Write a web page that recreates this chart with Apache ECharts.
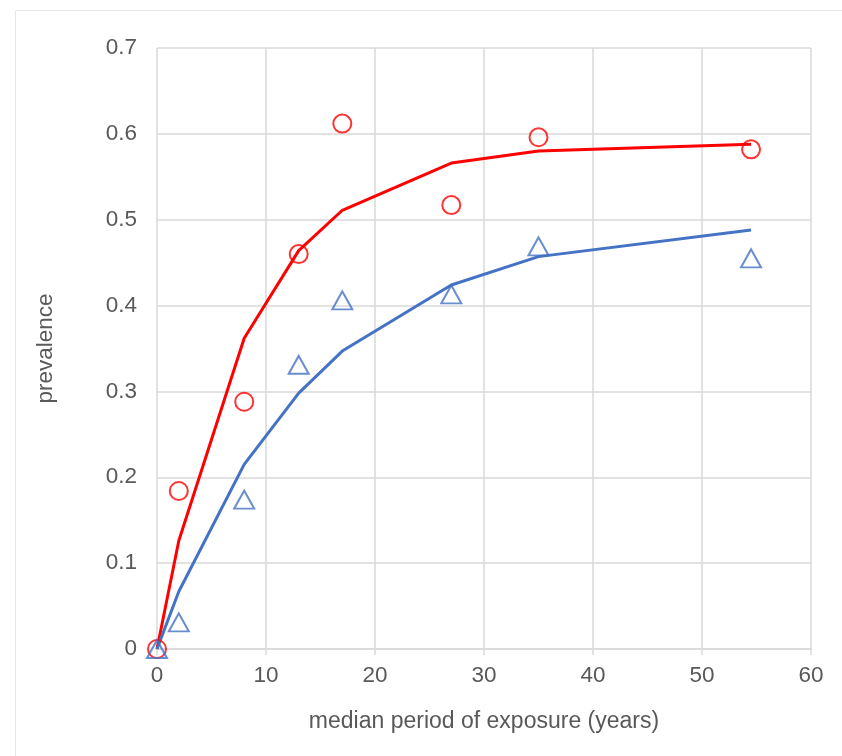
<!DOCTYPE html>
<html>
<head>
<meta charset="utf-8">
<script src="https://cdn.jsdelivr.net/npm/echarts@6/dist/echarts.min.js"></script>
<style>
html,body{margin:0;padding:0;background:#fff;}
#c{width:842px;height:756px;}
</style>
</head>
<body>
<div id="c"></div>
<script>
// Exposure period (years)
var exposureYears = [0, 2, 8, 13, 17, 27, 35, 54.5];
// Observed prevalence (red circles)
var observedRed = [0, 0.184, 0.288, 0.460, 0.612, 0.517, 0.596, 0.582];
// Fitted prevalence (red line)
var fittedRed = [0, 0.126, 0.362, 0.464, 0.511, 0.566, 0.580, 0.588];
// Observed prevalence (blue triangles)
var observedBlue = [0, 0.031, 0.174, 0.331, 0.406, 0.413, 0.469, 0.455];
// Fitted prevalence (blue line)
var fittedBlue = [0, 0.067, 0.215, 0.298, 0.347, 0.424, 0.457, 0.488];

function pairs(xs, ys) { return xs.map(function (x, i) { return [x, ys[i]]; }); }

var textColor = '#595959';
var gridColor = '#D9D9D9';
var font = 'Liberation Sans, Arial, sans-serif';

var chart = echarts.init(document.getElementById('c'), null, {renderer: 'canvas'});
chart.setOption({
  animation: false,
  backgroundColor: '#fff',
  graphic: [{
    type: 'rect', shape: {x: 15.5, y: 10.5, width: 840, height: 760},
    style: {fill: 'none', stroke: '#E6E6E6', lineWidth: 1}, silent: true, z: -1
  }],
  grid: {left: 157, top: 48, right: 31, bottom: 107},
  xAxis: {
    type: 'value', min: 0, max: 60, interval: 10,
    name: 'median period of exposure (years)', nameLocation: 'middle', nameGap: 61,
    nameTextStyle: {color: textColor, fontSize: 23, fontFamily: font},
    axisLine: {show: true, lineStyle: {color: gridColor, width: 1.5}},
    axisTick: {show: true, length: 6, lineStyle: {color: gridColor, width: 1.5}},
    axisLabel: {color: textColor, fontSize: 22.5, fontFamily: font, margin: 15},
    splitLine: {show: true, lineStyle: {color: gridColor, width: 1.5}}
  },
  yAxis: {
    type: 'value', min: 0, max: 0.7, interval: 0.1,
    name: 'prevalence', nameLocation: 'middle', nameGap: 100,
    nameTextStyle: {color: textColor, fontSize: 22.5, fontFamily: font},
    axisLine: {show: false}, axisTick: {show: false},
    axisLabel: {color: textColor, fontSize: 22.5, fontFamily: font, margin: 20,
      formatter: function (v) { return v === 0 ? '0' : v.toFixed(1); }},
    splitLine: {show: true, lineStyle: {color: gridColor, width: 1.5}}
  },
  series: [
    {type: 'line', data: pairs(exposureYears, fittedRed), showSymbol: false,
      lineStyle: {color: '#FF0000', width: 3}, z: 3},
    {type: 'line', data: pairs(exposureYears, fittedBlue), showSymbol: false,
      lineStyle: {color: '#4472C4', width: 3}, z: 3},
    {type: 'scatter', data: pairs(exposureYears, observedRed), symbol: 'circle', symbolSize: 18,
      itemStyle: {color: 'rgba(0,0,0,0)', borderColor: '#FF0000', borderWidth: 2}, z: 4},
    {type: 'scatter', data: pairs(exposureYears, observedBlue), symbol: 'triangle', symbolSize: [20, 18],
      itemStyle: {color: 'rgba(0,0,0,0)', borderColor: '#4472C4', borderWidth: 2}, z: 4}
  ]
});
</script>
</body>
</html>
